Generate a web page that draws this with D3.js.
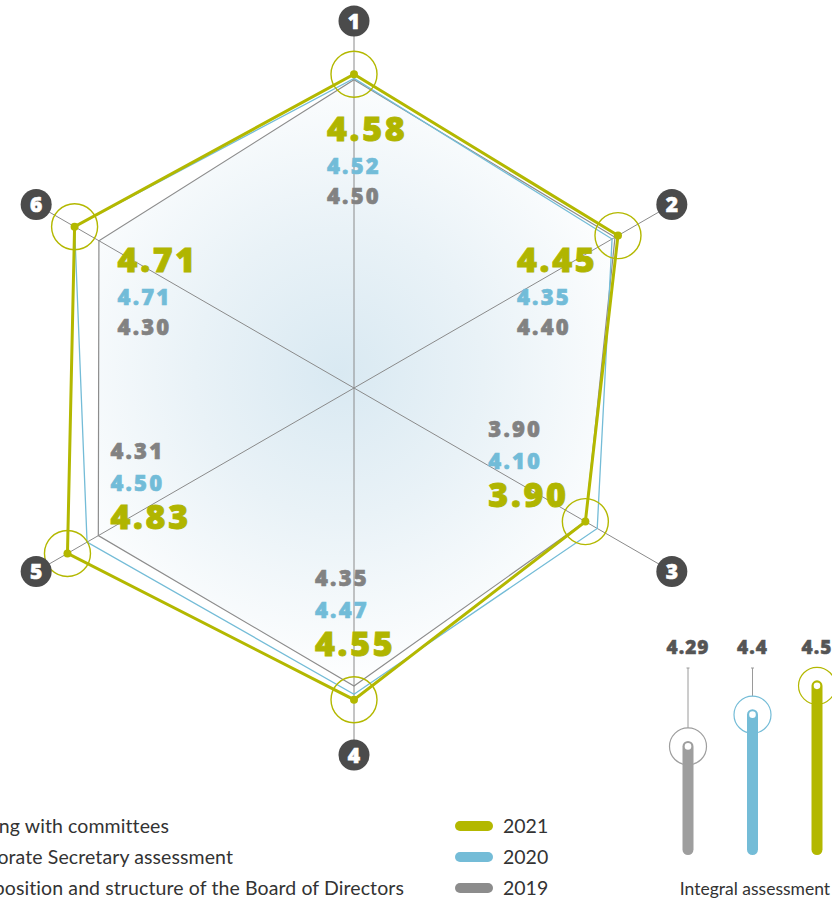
<!DOCTYPE html>
<html>
<head>
<meta charset="utf-8">
<script src="https://cdn.jsdelivr.net/npm/d3@7"></script>
<style>
  html, body { margin: 0; padding: 0; background: #ffffff; }
  svg { display: block; }
</style>
</head>
<body>
<svg id="chart" width="832" height="903"></svg>
<script>
// ---------- DATA ----------
const axisNumbers = ["1", "2", "3", "4", "5", "6"];
const values2021 = [4.58, 4.45, 3.90, 4.55, 4.83, 4.71];
const values2020 = [4.52, 4.35, 4.10, 4.47, 4.50, 4.71];
const values2019 = [4.50, 4.40, 3.90, 4.35, 4.31, 4.30];
const years = ["2021", "2020", "2019"];
const integralYears = ["2019", "2020", "2021"];
const integralValues = [4.29, 4.4, 4.5];
const legendTexts = [
  "Working with committees",
  "Corporate Secretary assessment",
  "Composition and structure of the Board of Directors"
];
const integralTitle = "Integral assessment";

// ---------- STYLE / LAYOUT ----------
const colors = { "2021": "#b3b800", "2020": "#74bcd7", "2019": "#8c8c8c" };
const textColors = { "2021": "#b0b500", "2020": "#72bcd8", "2019": "#828282" };
const barColors = { "2019": "#9e9e9e", "2020": "#74bcd7", "2021": "#b3b800" };
const valueFont = "'Open Sans', sans-serif";
const textFont = "Lato, sans-serif";
const cx = 354, cy = 388;
const labelRadius = 367;
// label block anchor offsets relative to the 2021 vertex, per axis
const labelOffsets = [[-27, 67], [-101, 36], [-97, -15], [-39, -44], [43, -24], [43, 45]];
const topAxis = [true, true, false, false, false, true];

const svg = d3.select("#chart");
const defs = svg.append("defs");
const grad = defs.append("radialGradient")
  .attr("id", "bg").attr("gradientUnits", "userSpaceOnUse")
  .attr("cx", cx - 15).attr("cy", cy - 15).attr("r", 320);
grad.append("stop").attr("offset", "0%").attr("stop-color", "#d9e9f2");
grad.append("stop").attr("offset", "45%").attr("stop-color", "#e9f2f7");
grad.append("stop").attr("offset", "100%").attr("stop-color", "#ffffff");

const r = d3.scaleLinear().domain([0, 5]).range([0, 342.5]);
const angle = d3.scaleLinear().domain([0, 6]).range([-Math.PI / 2, Math.PI * 1.5]);
const pt = (v, i) => [cx + r(v) * Math.cos(angle(i)), cy + r(v) * Math.sin(angle(i))];
const lineGen = d3.line().curve(d3.curveLinearClosed);

const g = svg.append("g");

// background fill (2019 polygon)
g.append("path")
  .attr("d", lineGen(values2019.map(pt)))
  .attr("fill", "url(#bg)");

// axes
g.selectAll("line.axis").data(axisNumbers).join("line")
  .attr("class", "axis")
  .attr("x1", cx).attr("y1", cy)
  .attr("x2", (d, i) => cx + labelRadius * Math.cos(angle(i)))
  .attr("y2", (d, i) => cy + labelRadius * Math.sin(angle(i)))
  .attr("stroke", "#8a8a8a").attr("stroke-width", 1);

// series polygons
const series = [
  { year: "2019", values: values2019, w: 1.2 },
  { year: "2020", values: values2020, w: 1.3 },
  { year: "2021", values: values2021, w: 3 }
];
g.selectAll("path.series").data(series).join("path")
  .attr("class", "series")
  .attr("d", d => lineGen(d.values.map(pt)))
  .attr("fill", "none")
  .attr("stroke", d => colors[d.year])
  .attr("stroke-width", d => d.w)
  .attr("stroke-linejoin", "miter");

// rings and dots on 2021 vertices
g.selectAll("circle.ring").data(values2021).join("circle")
  .attr("class", "ring")
  .attr("cx", (d, i) => pt(d, i)[0]).attr("cy", (d, i) => pt(d, i)[1])
  .attr("r", 23).attr("fill", "none")
  .attr("stroke", colors["2021"]).attr("stroke-width", 1.4);
g.selectAll("circle.dot").data(values2021).join("circle")
  .attr("class", "dot")
  .attr("cx", (d, i) => pt(d, i)[0]).attr("cy", (d, i) => pt(d, i)[1])
  .attr("r", 4).attr("fill", colors["2021"]);

// numbered circles
const nums = g.selectAll("g.num").data(axisNumbers).join("g")
  .attr("class", "num")
  .attr("transform", (d, i) => `translate(${cx + labelRadius * Math.cos(angle(i))},${cy + labelRadius * Math.sin(angle(i))})`);
nums.append("circle").attr("r", 15.5).attr("fill", "#4b4b4b");
nums.append("text").text(d => d)
  .attr("text-anchor", "middle").attr("dy", "0.36em")
  .attr("font-family", valueFont).attr("font-weight", 800)
  .attr("font-size", 21).attr("fill", "#ffffff")
  .attr("stroke", "#ffffff").attr("stroke-width", 0.6);

// value labels
const fmt = d3.format(".2f");
axisNumbers.forEach((a, i) => {
  const [vx, vy] = pt(values2021[i], i);
  const x = vx + labelOffsets[i][0];
  const yG = vy + labelOffsets[i][1];
  const rows = topAxis[i]
    ? [["2021", values2021[i], yG], ["2020", values2020[i], yG + 33], ["2019", values2019[i], yG + 63]]
    : [["2021", values2021[i], yG], ["2020", values2020[i], yG - 38], ["2019", values2019[i], yG - 70]];
  rows.forEach(([yr, v, y]) => {
    const big = yr === "2021";
    g.append("text")
      .attr("x", x).attr("y", y)
      .text(fmt(v))
      .attr("font-family", valueFont)
      .attr("font-weight", 800)
      .attr("font-size", big ? 34 : 22)
      .attr("letter-spacing", big ? 2.7 : 2.2)
      .attr("fill", textColors[yr])
      .attr("stroke", textColors[yr])
      .attr("stroke-width", big ? 0.9 : 0.6);
  });
});

// ---------- legend ----------
const legendY = d3.scalePoint().domain(years).range([826, 888]);
const lg = svg.append("g");
lg.selectAll("rect").data(years).join("rect")
  .attr("x", 455).attr("y", d => legendY(d) - 5)
  .attr("width", 38).attr("height", 10).attr("rx", 5)
  .attr("fill", d => colors[d]);
lg.selectAll("text.yr").data(years).join("text")
  .attr("class", "yr")
  .attr("x", 503).attr("y", d => legendY(d) + 7)
  .text(d => d)
  .attr("font-family", textFont).attr("font-size", 19.5)
  .attr("fill", "#333333");
const legendEnds = [169, 233, 404];
lg.selectAll("text.item").data(legendTexts).join("text")
  .attr("class", "item")
  .attr("x", (d, i) => legendEnds[i])
  .attr("y", (d, i) => legendY(years[i]) + 7)
  .attr("text-anchor", "end")
  .text(d => d)
  .attr("font-family", textFont).attr("font-size", 19.5)
  .attr("letter-spacing", 0.1)
  .attr("fill", "#333333");

// ---------- integral assessment bars ----------
const bx = d3.scalePoint().domain(integralYears).range([688, 817]);
const by = d3.scaleLinear().domain([4.0, 4.6]).range([830, 657]);
const bars = svg.append("g");
const bdata = integralYears.map((y, i) => ({ year: y, value: integralValues[i] }));
bars.selectAll("line.stem").data(bdata).join("line")
  .attr("class", "stem")
  .attr("x1", d => bx(d.year)).attr("x2", d => bx(d.year))
  .attr("y1", 668).attr("y2", d => by(d.value) - 18)
  .attr("stroke", "#9a9a9a").attr("stroke-width", 1);
bars.selectAll("line.tick").data(bdata).join("line")
  .attr("class", "tick")
  .attr("x1", d => bx(d.year) - 1.5).attr("x2", d => bx(d.year) + 1.5)
  .attr("y1", 668).attr("y2", 668)
  .attr("stroke", "#9a9a9a").attr("stroke-width", 1);
bars.selectAll("circle.bring").data(bdata).join("circle")
  .attr("class", "bring")
  .attr("cx", d => bx(d.year)).attr("cy", d => by(d.value))
  .attr("r", 18.5).attr("fill", "#ffffff")
  .attr("stroke", d => barColors[d.year]).attr("stroke-width", 1.2);
bars.selectAll("line.bar").data(bdata).join("line")
  .attr("class", "bar")
  .attr("x1", d => bx(d.year)).attr("x2", d => bx(d.year))
  .attr("y1", d => by(d.value)).attr("y2", 849.5)
  .attr("stroke", d => barColors[d.year]).attr("stroke-width", 11)
  .attr("stroke-linecap", "round");
bars.selectAll("circle.bdot").data(bdata).join("circle")
  .attr("class", "bdot")
  .attr("cx", d => bx(d.year)).attr("cy", d => by(d.value))
  .attr("r", 3.3).attr("fill", "#ffffff");
bars.selectAll("text.bval").data(bdata).join("text")
  .attr("class", "bval")
  .attr("x", d => bx(d.year)).attr("y", 654)
  .attr("text-anchor", "middle")
  .text(d => String(d.value))
  .attr("font-family", valueFont).attr("font-weight", 800)
  .attr("font-size", 19).attr("letter-spacing", 1)
  .attr("fill", "#555555")
  .attr("stroke", "#555555").attr("stroke-width", 0.5);
bars.append("text")
  .attr("x", 755).attr("y", 895)
  .attr("text-anchor", "middle")
  .text(integralTitle)
  .attr("font-family", textFont).attr("font-size", 17.5)
  .attr("fill", "#333333");
</script>
</body>
</html>
